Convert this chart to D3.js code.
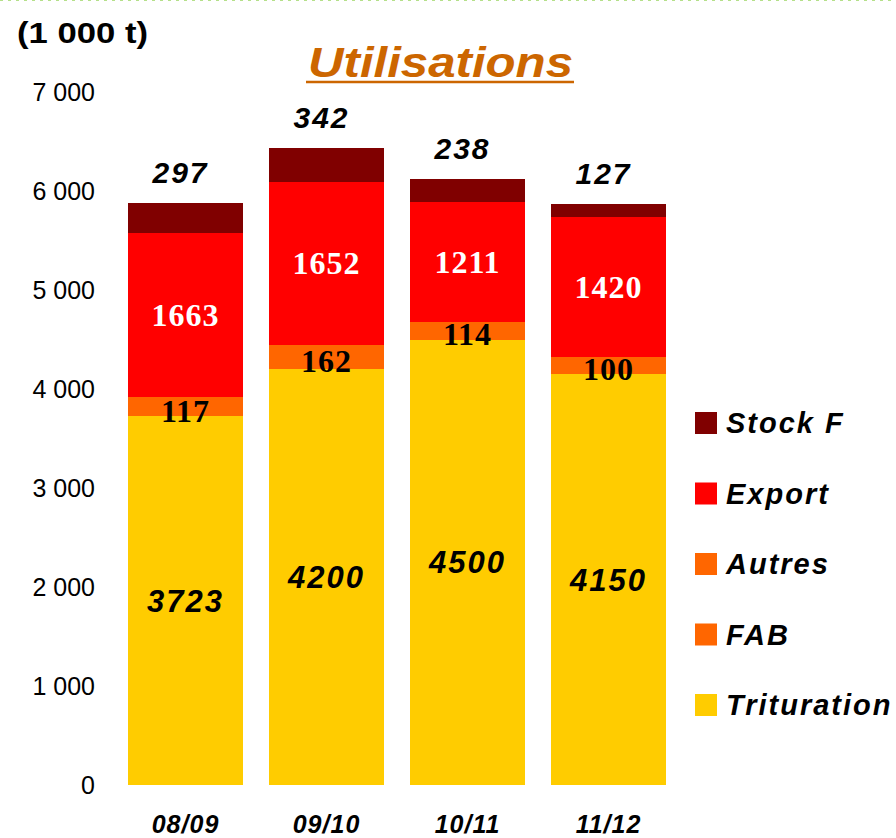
<!DOCTYPE html>
<html>
<head>
<meta charset="utf-8">
<script src="https://cdn.jsdelivr.net/npm/d3@7"></script>
<style>
  body { margin: 0; background: #fff; }
  svg { display: block; }
</style>
</head>
<body>
<script>
// campaigns
var categories = ["08/09", "09/10", "10/11", "11/12"];
// series values, 1 000 t (bottom to top of the stack)
var trituration = [3723, 4200, 4500, 4150];
var fab = [117, 162, 114, 100];
var autres = [75, 80, 60, 70];
var exportVals = [1663, 1652, 1211, 1420];
var stockF = [297, 342, 238, 127];
var yTicks = [0, 1000, 2000, 3000, 4000, 5000, 6000, 7000];

var series = [
    {name: "Trituration", values: trituration, color: "#FFCC00"},
    {name: "FAB", values: fab, color: "#FF6600"},
    {name: "Autres", values: autres, color: "#FF6600"},
    {name: "Export", values: exportVals, color: "#FF0000"},
    {name: "Stock F", values: stockF, color: "#800000"}
];

var W = 896, H = 838;
var sans = "'Liberation Sans', Arial, sans-serif";
var serif = "'Liberation Serif', 'Times New Roman', serif";

var svg = d3.select('body').append('svg')
    .attr('width', W)
    .attr('height', H);

// dotted frame line at top
svg.append('line')
    .attr('x1', 0).attr('x2', W)
    .attr('y1', 0.5).attr('y2', 0.5)
    .style('stroke', '#b5e08a')
    .style('stroke-width', 1)
    .style('stroke-dasharray', '3,5');

var x = d3.scaleBand()
    .domain(categories)
    .range([115, 679])
    .paddingInner(0.18)
    .paddingOuter(0.09);

var y = d3.scaleLinear()
    .domain([0, 7000])
    .range([785, 92]);

// stack rows
var rows = categories.map(function(c, i){
    var r = {cat: c};
    series.forEach(function(s){ r[s.name] = s.values[i]; });
    return r;
});
var stack = d3.stack().keys(series.map(function(s){ return s.name; }));
var layers = stack(rows);

var g = svg.append('g').attr('shape-rendering', 'crispEdges');
layers.forEach(function(layer, li){
    g.selectAll('rect.s' + li)
        .data(layer)
        .enter().append('rect')
        .attr('x', function(d){ return x(d.data.cat); })
        .attr('y', function(d){ return y(d[1]); })
        .attr('width', x.bandwidth())
        .attr('height', function(d){ return y(d[0]) - y(d[1]); })
        .style('fill', series[li].color);
});

// y axis: labels only
var yAxis = d3.axisLeft(y)
    .tickValues(yTicks)
    .tickSize(0)
    .tickPadding(0)
    .tickFormat(function(d){ return d3.format(',')(d).replace(/,/g, ' '); });
var ya = svg.append('g')
    .attr('transform', 'translate(95,0)')
    .call(yAxis);
ya.select('.domain').remove();
ya.selectAll('text')
    .style('font-family', sans)
    .style('font-size', '25px')
    .style('fill', '#000');

// x axis: category labels
var xAxis = d3.axisBottom(x).tickSize(0).tickPadding(0);
var xa = svg.append('g')
    .attr('transform', 'translate(0,815)')
    .call(xAxis);
xa.select('.domain').remove();
xa.selectAll('text')
    .attr('dy', '0.71em')
    .style('font-family', sans)
    .style('font-size', '25px')
    .style('font-weight', 'bold')
    .style('font-style', 'italic')
    .style('letter-spacing', '1px')
    .style('fill', '#000');

// value labels
var tg = svg.append('g');
function cx(d){ return x(d.data.cat) + x.bandwidth()/2; }

tg.selectAll('text.trit')
    .data(layers[0])
    .enter().append('text')
    .attr('x', cx)
    .attr('y', function(d){ return (y(d[0]) + y(d[1]))/2; })
    .attr('dy', '0.36em')
    .attr('text-anchor', 'middle')
    .style('font-family', sans)
    .style('font-size', '31px')
    .style('font-weight', 'bold')
    .style('font-style', 'italic')
    .style('letter-spacing', '2px')
    .text(function(d){ return d[1] - d[0]; });

tg.selectAll('text.fab')
    .data(layers[1])
    .enter().append('text')
    .attr('x', cx)
    .attr('y', function(d){ return (y(d[0]) + y(d[1]))/2; })
    .attr('dy', '0.34em')
    .attr('text-anchor', 'middle')
    .style('font-family', serif)
    .style('font-size', '32px')
    .style('font-weight', 'bold')
    .style('letter-spacing', '1px')
    .style('fill', '#000')
    .text(function(d){ return d[1] - d[0]; });

tg.selectAll('text.exp')
    .data(layers[3])
    .enter().append('text')
    .attr('x', cx)
    .attr('y', function(d){ return (y(d[0]) + y(d[1]))/2; })
    .attr('dy', '0.34em')
    .attr('text-anchor', 'middle')
    .style('font-family', serif)
    .style('font-size', '32px')
    .style('font-weight', 'bold')
    .style('letter-spacing', '1px')
    .style('fill', '#fff')
    .text(function(d){ return d[1] - d[0]; });

tg.selectAll('text.stock')
    .data(layers[4])
    .enter().append('text')
    .attr('x', function(d){ return cx(d) - 5; })
    .attr('y', function(d){ return y(d[1]) - 20; })
    .attr('text-anchor', 'middle')
    .style('font-family', sans)
    .style('font-size', '30px')
    .style('font-weight', 'bold')
    .style('font-style', 'italic')
    .style('letter-spacing', '2px')
    .text(function(d){ return d[1] - d[0]; });

// unit
svg.append('text')
    .attr('x', 17).attr('y', 43)
    .attr('textLength', 131)
    .attr('lengthAdjust', 'spacingAndGlyphs')
    .style('font-family', sans)
    .style('font-size', '30px')
    .style('font-weight', 'bold')
    .text('(1 000 t)');

// title
svg.append('text')
    .attr('x', 308).attr('y', 77)
    .attr('textLength', 265)
    .attr('lengthAdjust', 'spacingAndGlyphs')
    .style('font-family', sans)
    .style('font-size', '42px')
    .style('font-weight', 'bold')
    .style('font-style', 'italic')
    .style('fill', '#CC6600')
    .text('Utilisations');
svg.append('line')
    .attr('x1', 306).attr('x2', 574)
    .attr('y1', 82).attr('y2', 82)
    .style('stroke', '#CC6600')
    .style('stroke-width', 2.5);

// legend, top to bottom
var legendItems = series.slice().reverse();
var leg = svg.selectAll('g.leg')
    .data(legendItems)
    .enter().append('g')
    .attr('transform', function(d, i){ return 'translate(695,' + (423 + i*70.5) + ')'; });
leg.append('rect')
    .attr('x', 0).attr('y', -11)
    .attr('width', 22).attr('height', 22)
    .style('fill', function(d){ return d.color; });
leg.append('text')
    .attr('x', 31).attr('y', 0)
    .attr('dy', '0.36em')
    .style('font-family', sans)
    .style('font-size', '29px')
    .style('font-weight', 'bold')
    .style('font-style', 'italic')
    .style('letter-spacing', '2px')
    .text(function(d){ return d.name; });
</script>
</body>
</html>
